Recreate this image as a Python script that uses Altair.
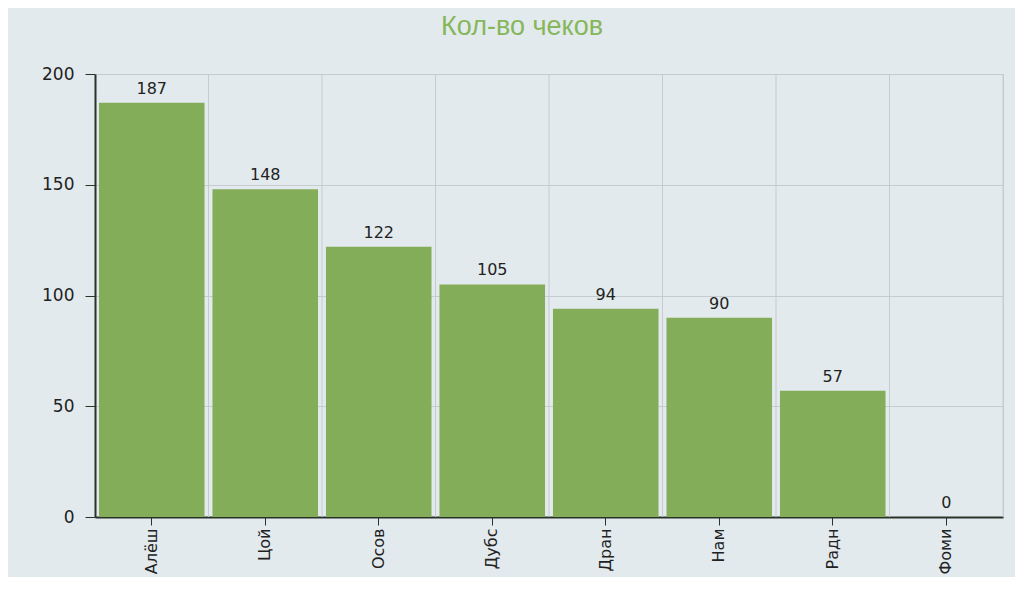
import altair as alt
import pandas as pd

names = ["Алёш", "Цой", "Осов", "Дубс", "Дран", "Нам", "Радн", "Фоми"]
values = [187, 148, 122, 105, 94, 90, 57, 0]

df = pd.DataFrame({"name": names, "value": values})

x_enc = alt.X("name:N", sort=names, title=None,
              scale=alt.Scale(paddingInner=0, paddingOuter=0),
              axis=alt.Axis(labelAngle=-90, labelAlign="right", labelBaseline="middle",
                            labelFont="DejaVu Sans", labelFontSize=16, labelColor="#222222",
                            labelPadding=3, tickSize=8, tickColor="#2a332a",
                            domainColor="#2a332a", domainWidth=2, grid=False))
y_enc = alt.Y("value:Q", title=None,
              scale=alt.Scale(domain=[0, 200], nice=False),
              axis=alt.Axis(values=[0, 50, 100, 150, 200], labelFont="DejaVu Sans",
                            labelFontSize=17, labelColor="#222222", labelPadding=11,
                            tickSize=10, tickColor="#2a332a", domainColor="#2a332a",
                            domainWidth=2, grid=True, gridColor="#c5cccf", gridWidth=1))

bars = alt.Chart(df).mark_bar(color="#84ad5a", width=alt.RelativeBandSize(0.93)).encode(
    x=x_enc, y=y_enc)

vrules = alt.Chart(df).mark_rule(color="#c5cccf", strokeWidth=1).encode(
    x=alt.X("name:N", sort=names, bandPosition=1))

labels = alt.Chart(df).mark_text(baseline="bottom", dy=-6, font="DejaVu Sans",
                                 fontSize=16, color="#222222").encode(
    x=alt.X("name:N", sort=names), y=alt.Y("value:Q"), text="value:Q")

chart = alt.layer(vrules, bars, labels).properties(
    width=908, height=443,
    title=alt.TitleParams("Кол-во чеков", font="Liberation Sans", fontSize=27,
                          fontWeight="normal", color="#86b75a", dx=-27, offset=24),
    autosize=alt.AutoSizeParams(type="none"),
    padding={"left": 87, "top": 66, "right": 12, "bottom": 60},
    background="#e3eaed",
).configure_view(stroke="#c5cccf", strokeWidth=1)

chart.save("out.html", embed_options={"renderer": "svg", "actions": False})
